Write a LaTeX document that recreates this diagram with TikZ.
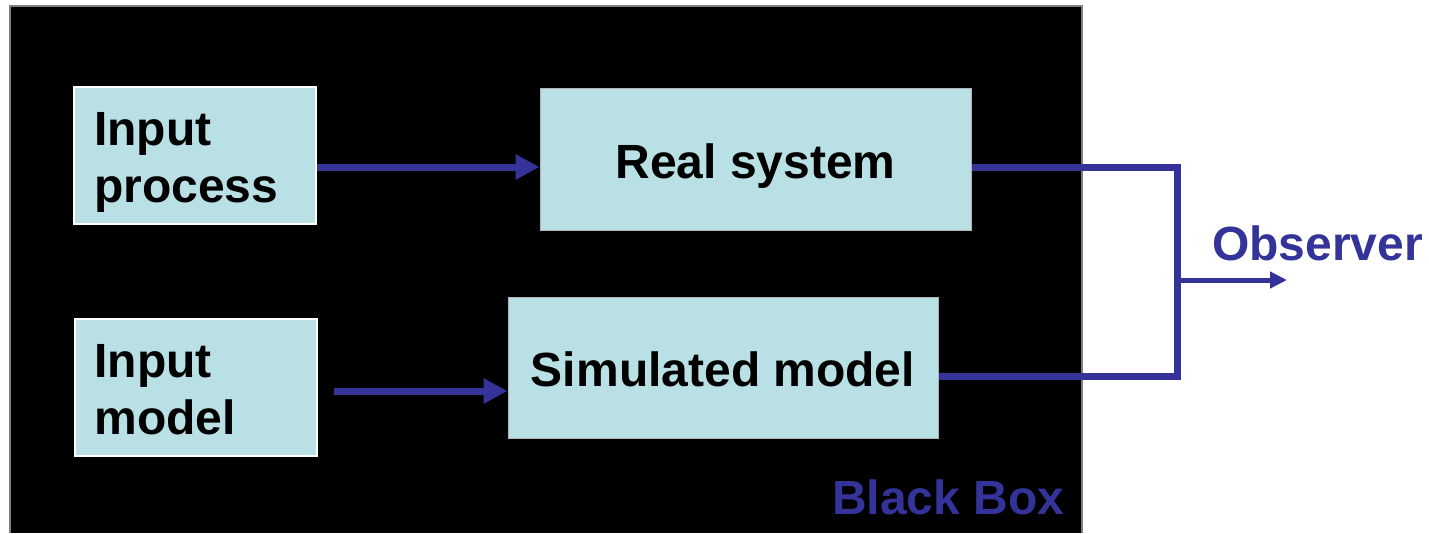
\documentclass[tikz,border=0pt]{standalone}
\usepackage{fontspec}
\setmainfont{Liberation Sans}
\usetikzlibrary{arrows.meta}
\definecolor{boxcyan}{HTML}{B9E0E4}
\definecolor{wireblue}{HTML}{333399}
\tikzset{
    bigfont/.style={font=\bfseries\fontsize{48}{57}\selectfont},
    inbox/.style={bigfont, draw=white, line width=2pt, fill=boxcyan, minimum width=242pt, minimum height=137pt, text width=202pt, inner xsep=20pt, inner ysep=4pt, align=left, text height=47pt, text depth=67pt},
    sysbox/.style={bigfont, draw=gray!60, line width=1pt, fill=boxcyan, minimum height=142pt, inner sep=0pt, text height=38pt, text depth=0pt},
    wire/.style={draw=wireblue, line width=7pt},
    feed/.style={wire, -{Triangle[length=24pt,width=24pt]}},
    tag/.style={bigfont, text=wireblue, inner sep=0pt, anchor=base west}
}
\begin{document}
\begin{tikzpicture}[x=1pt, y=-1pt]

    \useasboundingbox (0,0) rectangle (1429,533);
    % the black box
    \fill[black] (10,6) rectangle (1082,533);
    \draw[gray, line width=1.5pt] (10,533) |- (1082,6) -- (1082,533);

    \node[inbox] (inproc) at (195,155.5) {Input\\process};
    \node[inbox] (inmod) at (195.5,387) {Input\\model};
    \node[sysbox, minimum width=431pt] (real) at (755.5,159) {Real system};
    \node[sysbox, minimum width=430pt, minimum height=141pt] (sim) at (723,367.5) {Simulated model};
    \node[tag] (boxlabel) at (832,514) {Black Box};
    \node[tag] (observer) at (1212,260) {Observer};

    \coordinate (split) at (1177,280);
    \coordinate (seen) at (1287,280);

    \draw[feed] ([yshift=-11.5pt]inproc.east) -- ([yshift=-8pt]real.west);
    \draw[feed] ([xshift=16pt,yshift=-4pt]inmod.east) -- ([yshift=-23.5pt]sim.west);
    \draw[wire] ([yshift=-8pt]real.east) -| (split) |- ([yshift=-8.5pt]sim.east);
    \draw[wire, line width=5pt, -{Triangle[length=17pt,width=16pt]}] (split) -- (seen);
\end{tikzpicture}
\end{document}
